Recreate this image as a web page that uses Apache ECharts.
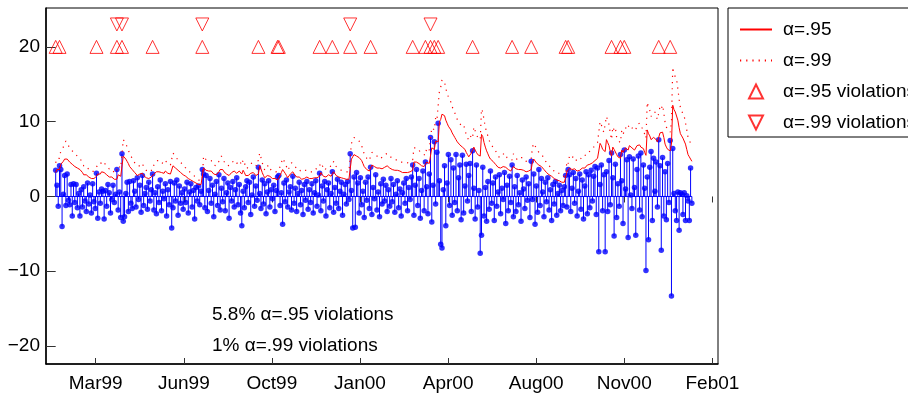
<!DOCTYPE html>
<html>
<head>
<meta charset="utf-8">
<script src="https://cdn.jsdelivr.net/npm/echarts@6/dist/echarts.min.js"></script>
<style>
  html, body { margin: 0; padding: 0; background: #fff; }
  #chart { width: 908px; height: 397px; }
</style>
</head>
<body>
<div id="chart"></div>
<script>
// Daily returns (%) by trading day, Jan 1999 - Jan 2001
const returns = [
  3.5,1.5,-1.3,4.1,3.6,-4.0,0.3,2.8,-1.2,3.0,-0.5,-1.1,1.6,-2.6,1.7,-0.8,1.6,-1.5,0.4,-2.6,
  0.9,-1.4,1.3,-0.6,-2.0,1.8,-1.0,0.2,-2.2,1.7,-0.7,-1.6,3.1,-2.9,0.6,-0.9,1.0,0.7,-3.0,0.8,
  -1.3,1.6,0.5,-2.2,-0.4,1.5,-0.8,0.3,3.6,-1.8,0.6,-2.8,5.7,-3.3,-2.7,0.4,1.9,-2.0,2.0,-0.9,
  -1.6,2.1,0.7,-1.4,2.5,-0.4,1.5,-2.1,2.8,-1.2,0.4,1.2,-1.7,1.9,-0.6,0.9,3.0,-1.8,0.5,-2.3,
  1.3,-0.8,2.2,-1.9,0.7,-0.3,1.7,-2.6,0.9,-1.1,2.0,-4.2,-1.5,1.8,-0.6,2.2,-2.5,1.4,-0.9,0.5,
  -1.7,1.0,-0.8,1.9,-2.2,0.6,1.7,-1.4,0.8,-3.0,1.2,-0.6,1.4,-1.1,0.7,3.6,3.0,-1.5,2.8,-2.0,
  0.8,2.4,-0.9,1.5,-2.7,0.3,2.0,-1.2,2.9,-1.8,1.1,-0.7,2.4,-1.9,0.5,1.8,-2.9,1.2,-0.6,2.0,
  -1.4,0.9,2.5,-1.1,1.6,-2.2,-3.9,0.7,-1.5,1.3,2.1,-0.8,1.9,-2.4,0.2,2.6,-1.3,1.4,-0.5,3.9,
  0.4,-1.6,2.2,-1.0,1.7,-2.3,0.6,2.1,-1.4,0.9,-0.3,1.5,-2.0,0.8,2.6,2.8,-1.2,0.5,-3.7,1.8,
  -0.7,2.2,-1.4,0.6,1.3,-1.8,2.7,-0.9,1.1,-2.0,0.4,1.9,-1.1,0.8,-2.4,1.6,-0.5,2.0,-1.7,0.9,
  -0.8,1.7,-2.2,0.5,2.1,-1.3,0.2,3.1,-1.9,1.4,-0.6,2.0,-2.6,0.9,1.8,-1.5,0.4,3.3,-2.1,1.2,
  -0.9,2.3,-1.6,0.7,1.9,-2.5,0.3,1.6,-1.0,2.0,-0.4,5.7,0.8,-4.2,2.6,-4.1,3.2,1.8,-2.2,2.5,
  -1.1,0.7,-2.8,1.9,-0.5,2.6,-1.6,3.9,-2.4,1.2,-0.3,2.9,-1.8,0.6,-2.7,1.7,-1.0,2.3,-0.6,1.5,
  -2.0,0.9,-1.3,2.4,-0.7,1.6,-2.1,0.3,2.1,-1.5,1.0,-2.6,0.5,1.8,-0.9,2.4,-1.9,1.2,-0.4,2.6,
  4.2,-2.5,1.5,3.6,-1.2,2.4,-2.9,0.8,3.4,-1.9,4.6,1.3,-2.3,3.0,7.9,-3.4,1.5,7.3,-1.0,5.9,
  9.8,2.1,-6.4,-6.9,0.9,4.1,-3.9,1.8,5.6,-1.2,4.9,-2.5,3.8,-0.8,5.6,-1.9,2.5,4.2,-3.1,5.5,
  -2.2,1.4,4.3,-0.6,2.8,4.4,-2.0,6.1,1.1,-3.0,4.2,-1.4,0.8,-7.6,-5.2,3.9,-2.6,1.2,-3.3,2.0,
  -1.7,3.4,-0.9,1.8,-3.2,2.6,-1.3,0.6,2.9,-2.3,1.1,-0.4,3.2,-3.6,1.5,-1.9,2.7,-0.8,4.2,-2.7,
  1.3,-2.0,2.8,-1.1,0.5,-3.3,2.2,1.0,-1.6,2.6,-0.5,1.7,-2.8,4.7,-0.4,3.0,-3.7,1.4,-2.1,3.6,
  -1.2,2.4,0.6,-2.7,1.9,-0.7,2.5,-1.8,0.9,-3.2,1.6,-1.0,2.0,-2.5,0.4,1.5,-1.9,0.8,-1.2,1.3,
  2.8,-1.4,3.6,2.9,-2.0,1.1,3.2,-0.9,2.4,-2.6,0.7,3.0,-1.7,2.2,-3.0,1.4,3.3,-2.3,2.9,-1.5,
  3.5,-0.6,2.7,4.0,-2.4,3.8,-7.4,1.6,4.2,-1.9,2.9,-7.4,3.3,-2.0,4.8,-1.1,5.8,2.5,-5.3,4.3,
  -2.8,1.7,-1.3,5.6,2.1,-3.6,6.2,1.0,4.9,-5.5,5.3,0.2,-1.6,5.0,1.2,-5.2,3.6,5.4,-1.8,5.8,
  -2.7,4.2,1.1,-9.9,2.6,-5.8,3.9,6.0,-3.2,5.1,0.7,4.6,-1.4,7.6,4.1,-7.2,5.2,-2.6,3.3,-3.1,
  4.4,-0.8,7.5,-13.3,6.4,0.4,-1.9,-3.2,0.6,-4.5,0.5,0.3,-2.4,0.5,-3.2,0.1,-0.6,-3.2,3.8,-0.9
];

// 95% value-at-risk forecast for each day
const var95 = [
  3.2,3.6,3.7,3.6,4.3,4.4,4.7,5.0,5.2,5.0,4.8,4.6,4.5,4.3,4.2,4.0,3.9,3.8,3.7,3.6,
  3.4,3.2,2.9,2.8,2.9,2.7,2.6,2.5,2.4,2.3,2.4,2.6,2.7,3.0,3.1,3.0,3.3,3.4,3.2,3.1,
  2.9,2.8,2.6,2.5,2.6,2.4,2.3,2.2,2.3,2.9,2.8,2.7,2.6,5.4,5.3,5.0,4.7,4.4,4.0,3.8,
  3.6,3.4,3.2,3.0,2.8,2.9,3.0,2.9,3.1,2.8,2.6,2.5,2.3,2.4,2.5,2.6,2.5,3.0,3.2,3.3,
  3.4,3.3,3.4,3.2,3.3,3.1,3.4,3.3,3.1,3.2,3.0,3.1,4.1,4.0,3.8,3.6,3.5,3.3,3.2,3.1,
  2.9,2.8,2.7,2.5,2.4,2.3,2.2,2.1,2.0,1.9,1.8,1.7,1.6,1.5,1.6,1.6,3.8,3.7,3.5,3.6,
  3.4,3.3,3.4,3.2,3.0,2.9,2.9,3.1,3.3,3.6,3.8,3.6,3.3,3.1,3.0,2.9,2.8,3.0,3.2,3.3,
  3.4,3.3,3.1,3.2,3.4,3.2,3.0,3.5,3.2,2.8,2.6,2.8,3.0,3.1,3.0,3.2,3.0,2.8,2.9,3.0,
  4.1,3.7,3.2,2.8,2.5,2.7,2.8,3.0,2.7,2.5,2.4,2.3,2.4,2.3,2.2,2.5,2.8,3.2,3.6,3.4,
  3.1,2.8,2.5,2.7,3.0,3.2,3.3,3.0,2.8,2.6,2.5,2.6,2.4,2.3,2.3,2.4,2.5,2.6,2.5,2.4,
  2.3,2.4,2.3,2.5,2.6,2.5,2.6,2.7,3.2,3.0,2.7,2.5,2.6,2.8,2.9,2.8,2.7,2.9,3.3,3.1,
  2.8,2.7,2.6,2.6,2.5,2.6,2.4,2.3,2.3,2.4,2.3,2.4,5.0,5.3,5.6,5.5,5.4,5.3,5.2,5.1,
  4.8,4.4,4.0,3.8,3.6,3.5,3.4,3.3,4.2,4.1,4.0,3.9,3.8,3.7,3.8,3.6,3.7,3.8,3.9,4.0,
  4.1,4.0,3.8,3.7,3.6,3.6,3.5,3.4,3.5,3.3,3.4,3.3,3.2,3.3,3.2,3.1,3.2,3.1,3.3,3.4,
  3.5,4.6,4.7,4.6,4.5,4.4,4.2,4.1,4.0,4.0,3.9,4.6,4.5,4.4,4.4,6.5,6.4,6.3,7.4,7.2,
  7.3,10.0,10.3,11.0,11.2,10.8,10.2,9.8,9.4,9.2,8.9,8.5,8.2,7.9,7.6,7.3,7.1,6.9,6.7,6.6,
  6.8,6.3,5.9,5.6,5.3,5.5,5.8,5.6,6.6,6.2,5.9,5.6,5.5,5.4,8.3,8.0,7.2,6.6,6.1,5.7,
  5.3,5.0,4.8,4.7,4.5,4.3,4.1,3.9,3.7,3.8,3.9,4.0,4.1,3.9,3.7,3.6,3.5,3.4,3.5,4.0,
  3.9,3.7,3.5,3.6,3.7,3.6,3.7,3.5,3.4,3.3,3.3,3.4,3.5,3.6,4.7,5.0,4.8,4.5,4.4,4.2,
  4.1,4.0,3.8,3.6,3.4,3.2,3.1,2.9,2.8,2.7,2.5,2.4,2.3,2.2,2.3,2.1,2.0,1.9,1.8,1.9,
  2.1,3.3,3.1,3.8,3.7,3.6,3.8,3.7,3.5,3.4,3.3,3.5,3.6,3.8,3.9,3.8,4.0,4.2,4.1,4.3,
  4.4,4.5,4.7,4.8,4.9,5.1,5.0,7.1,6.8,6.3,6.1,6.0,7.6,7.2,6.8,6.0,5.4,6.6,6.3,6.5,
  5.6,5.3,5.2,5.1,6.2,5.9,5.7,6.5,6.3,6.2,6.8,6.7,6.5,6.3,6.2,6.3,6.8,6.7,6.9,6.6,
  6.5,6.4,5.9,5.5,8.9,8.4,8.1,7.6,7.8,7.9,8.0,7.6,7.3,7.2,8.5,8.3,8.6,7.9,7.0,6.6,
  6.3,6.2,6.1,7.0,12.2,11.6,11.3,11.1,10.2,9.2,8.4,8.1,7.8,7.6,7.0,6.3,5.6,5.3,5.0,4.7
];

// 99% value-at-risk forecast for each day
const var99 = [
  4.5,5.1,5.2,5.1,6.1,6.2,6.6,7.1,7.4,7.1,6.8,6.5,6.4,6.1,5.9,5.7,5.5,5.4,5.2,5.1,
  4.8,4.5,4.1,4.0,4.1,3.8,3.7,3.5,3.4,3.3,3.4,3.7,3.8,4.2,4.4,4.2,4.7,4.8,4.5,4.4,
  4.1,4.0,3.7,3.5,3.7,3.4,3.3,3.1,3.3,4.1,4.0,3.8,3.7,7.6,7.5,7.1,6.6,6.2,5.7,5.4,
  5.1,4.8,4.5,4.2,4.0,4.1,4.2,4.1,4.4,4.0,3.7,3.5,3.3,3.4,3.5,3.7,3.5,4.2,4.5,4.7,
  4.8,4.7,4.8,4.5,4.7,4.4,4.8,4.7,4.4,4.5,4.2,4.4,5.8,5.7,5.4,5.1,4.9,4.7,4.5,4.4,
  4.1,4.0,3.8,3.5,3.4,3.3,3.1,3.0,2.8,2.7,2.5,2.4,2.3,2.1,2.3,2.3,5.4,5.2,4.9,5.1,
  4.8,4.7,4.8,4.5,4.2,4.1,4.1,4.4,4.7,5.1,5.4,5.1,4.7,4.4,4.2,4.1,4.0,4.2,4.5,4.7,
  4.8,4.7,4.4,4.5,4.8,4.5,4.2,4.9,4.5,4.0,3.7,4.0,4.2,4.4,4.2,4.5,4.2,4.0,4.1,4.2,
  5.8,5.2,4.5,4.0,3.5,3.8,4.0,4.2,3.8,3.5,3.4,3.3,3.4,3.3,3.1,3.5,4.0,4.5,5.1,4.8,
  4.4,4.0,3.5,3.8,4.2,4.5,4.7,4.2,4.0,3.7,3.5,3.7,3.4,3.3,3.3,3.4,3.5,3.7,3.5,3.4,
  3.3,3.4,3.3,3.5,3.7,3.5,3.7,3.8,4.5,4.2,3.8,3.5,3.7,4.0,4.1,4.0,3.8,4.1,4.7,4.4,
  4.0,3.8,3.7,3.7,3.5,3.7,3.4,3.3,3.3,3.4,3.3,3.4,7.1,7.5,7.9,7.8,7.6,7.5,7.4,7.2,
  6.8,6.2,5.7,5.4,5.1,4.9,4.8,4.7,5.9,5.8,5.7,5.5,5.4,5.2,5.4,5.1,5.2,5.4,5.5,5.7,
  5.8,5.7,5.4,5.2,5.1,5.1,4.9,4.8,4.9,4.7,4.8,4.7,4.5,4.7,4.5,4.4,4.5,4.4,4.7,4.8,
  4.9,6.5,6.6,6.5,6.4,6.2,5.9,5.8,5.7,5.7,5.5,6.5,6.4,6.2,6.2,9.2,9.0,8.9,10.5,10.2,
  10.3,14.1,14.6,15.6,15.8,15.3,14.4,13.9,13.3,13.0,12.6,12.0,11.6,11.2,10.7,10.3,10.0,9.8,9.5,9.3,
  9.6,8.9,8.3,7.9,7.5,7.8,8.2,7.9,9.3,8.8,8.3,7.9,7.8,7.6,11.7,11.3,10.2,9.3,8.6,8.1,
  7.5,7.1,6.8,6.6,6.4,6.1,5.8,5.5,5.2,5.4,5.5,5.7,5.8,5.5,5.2,5.1,4.9,4.8,4.9,5.7,
  5.5,5.2,4.9,5.1,5.2,5.1,5.2,4.9,4.8,4.7,4.7,4.8,4.9,5.1,6.6,7.1,6.8,6.4,6.2,5.9,
  5.8,5.7,5.4,5.1,4.8,4.5,4.4,4.1,4.0,3.8,3.5,3.4,3.3,3.1,3.3,3.0,2.8,2.7,2.5,2.7,
  3.0,4.7,4.4,5.4,5.2,5.1,5.4,5.2,4.9,4.8,4.7,4.9,5.1,5.4,5.5,5.4,5.7,5.9,5.8,6.1,
  6.2,6.4,6.6,6.8,6.9,7.2,7.1,10.0,9.6,8.9,8.6,8.5,10.7,10.2,9.6,8.5,7.6,9.3,8.9,9.2,
  7.9,7.5,7.4,7.2,8.8,8.3,8.1,9.2,8.9,8.8,9.6,9.5,9.2,8.9,8.8,8.9,9.6,9.5,9.8,9.3,
  9.2,9.0,8.3,7.8,12.6,11.9,11.5,10.7,11.0,11.2,11.3,10.7,10.3,10.2,12.0,11.7,12.2,11.2,9.9,9.3,
  8.9,8.8,8.6,9.9,17.3,16.4,16.0,15.7,14.4,13.0,11.9,11.5,11.0,10.7,9.9,8.9,7.9,7.5,7.1,6.6
];

// Date ticks on the trading-day axis
const tickPos = [31.4, 100.5, 169.6, 238.7, 307.8, 376.9, 446.0, 515.1];
const tickLabels = ['Mar99', 'Jun99', 'Oct99', 'Jan00', 'Apr00', 'Aug00', 'Nov00', 'Feb01'];
const yTicks = [-20, -10, 0, 10, 20];

// Rows where violation markers are placed
const markRow95 = 20;
const markRow99 = 23;

const FONT = '"Liberation Sans", Arial, Helvetica, sans-serif';
const RED = '#ff0000';
const BLUE = '#0000ff';
const TRI_UP = 'path://M10,0L20,20L0,20Z';
const TRI_DOWN = 'path://M0,0L20,0L10,20Z';

const n = returns.length;
const retPts = returns.map((r, i) => [i, r]);
const v95Pts = var95.map((v, i) => [i, v]);
const v99Pts = var99.map((v, i) => [i, v]);
const hit95 = [], hit99 = [];
returns.forEach((r, i) => {
  if (r > var95[i]) hit95.push([i, markRow95]);
  if (r > var99[i]) hit99.push([i, markRow99]);
});
const pct = k => +(100 * k / n).toFixed(1);

const fmtX = v => {
  const k = tickPos.findIndex(p => Math.abs(p - v) < 1e-6);
  return k >= 0 ? tickLabels[k] : '';
};
const fmtY = v => (v < 0 ? '\u2212' + Math.abs(v) : String(v));

const chart = echarts.init(document.getElementById('chart'), null, { renderer: 'canvas' });

const hollow = { color: 'rgba(255,255,255,0)', borderColor: RED, borderWidth: 1 };

chart.setOption({
  animation: false,
  backgroundColor: '#fff',
  textStyle: { fontFamily: FONT },
  grid: {
    left: 46, right: 190, top: 8, bottom: 33,
    show: true, borderColor: '#000', borderWidth: 1, backgroundColor: 'transparent'
  },
  legend: {
    orient: 'vertical',
    left: 728, top: 8,
    padding: [12, 40, 5, 11],
    itemGap: 12,
    itemWidth: 32,
    itemHeight: 14,
    borderColor: '#000',
    borderWidth: 1,
    selectedMode: false,
    symbolKeepAspect: true,
    textStyle: { fontSize: 19, color: '#000', fontFamily: FONT, padding: [0, 0, 0, 6] },
    data: [
      { name: '\u03b1=.95', itemStyle: { opacity: 0 } },
      { name: '\u03b1=.99', itemStyle: { opacity: 0 } },
      { name: '\u03b1=.95 violations', icon: TRI_UP },
      { name: '\u03b1=.99 violations', icon: TRI_DOWN }
    ]
  },
  xAxis: [
    {
      type: 'value', min: -7.6, max: 519.5,
      axisLine: { show: true, onZero: false, lineStyle: { color: '#000', width: 1.5 } },
      axisTick: { show: true, inside: true, length: 6, customValues: tickPos, lineStyle: { color: '#333' } },
      axisLabel: { show: true, customValues: tickPos, formatter: fmtX, fontSize: 19, color: '#000', margin: 10, fontFamily: FONT },
      splitLine: { show: false }
    },
    {
      type: 'value', position: 'top', min: -7.6, max: 519.5,
      axisLine: { show: false },
      axisTick: { show: true, inside: true, length: 6, customValues: tickPos, lineStyle: { color: '#333' } },
      axisLabel: { show: false, customValues: tickPos },
      splitLine: { show: false }
    }
  ],
  yAxis: [
    {
      type: 'value', min: -22.4, max: 25.2,
      axisLine: { show: true, onZero: false, lineStyle: { color: '#000', width: 1.5 } },
      axisTick: { show: true, inside: true, length: 6, customValues: yTicks, lineStyle: { color: '#333' } },
      axisLabel: { show: true, customValues: yTicks, formatter: fmtY, fontSize: 19, color: '#000', margin: 6, fontFamily: FONT },
      splitLine: { show: false }
    },
    {
      type: 'value', position: 'right', min: -22.4, max: 25.2,
      axisLine: { show: false },
      axisTick: { show: true, inside: true, length: 6, customValues: yTicks, lineStyle: { color: '#333' } },
      axisLabel: { show: false, customValues: yTicks },
      splitLine: { show: false }
    }
  ],
  series: [
    {
      name: 'baseline', type: 'line', data: [[0, 0], [n - 1, 0]],
      symbol: 'none', lineStyle: { color: BLUE, width: 1 }, silent: true, z: 2
    },
    {
      name: 'stems', type: 'custom', data: retPts, silent: true, z: 3,
      renderItem: (params, api) => {
        const x = api.value(0);
        const p0 = api.coord([x, 0]);
        const p1 = api.coord([x, api.value(1)]);
        return {
          type: 'line',
          shape: { x1: p0[0], y1: p0[1], x2: p1[0], y2: p1[1] },
          style: { stroke: BLUE, lineWidth: 1 }
        };
      }
    },
    {
      name: 'heads', type: 'scatter', data: retPts, symbol: 'circle', symbolSize: 5.5,
      itemStyle: { color: BLUE }, silent: true, z: 4
    },
    {
      name: '\u03b1=.95', type: 'line', data: v95Pts, symbol: 'none',
      lineStyle: { color: RED, width: 1 }, itemStyle: { color: RED }, z: 5
    },
    {
      name: '\u03b1=.99', type: 'line', data: v99Pts, symbol: 'none',
      lineStyle: { color: RED, width: 1.2, type: [1.2, 5] }, itemStyle: { color: RED }, z: 5
    },
    {
      name: '\u03b1=.95 violations', type: 'scatter', data: hit95,
      symbol: TRI_UP, symbolSize: 13, symbolKeepAspect: true,
      itemStyle: hollow, z: 6
    },
    {
      name: '\u03b1=.99 violations', type: 'scatter', data: hit99,
      symbol: TRI_DOWN, symbolSize: 13, symbolKeepAspect: true,
      itemStyle: hollow, z: 6
    }
  ],
  graphic: [
    {
      type: 'text', left: 212, top: 305,
      style: { text: pct(hit95.length) + '% \u03b1=.95 violations', fontSize: 19, fontFamily: FONT, fill: '#000' }
    },
    {
      type: 'text', left: 212, top: 336,
      style: { text: pct(hit99.length) + '% \u03b1=.99 violations', fontSize: 19, fontFamily: FONT, fill: '#000' }
    }
  ]
});
</script>
</body>
</html>
